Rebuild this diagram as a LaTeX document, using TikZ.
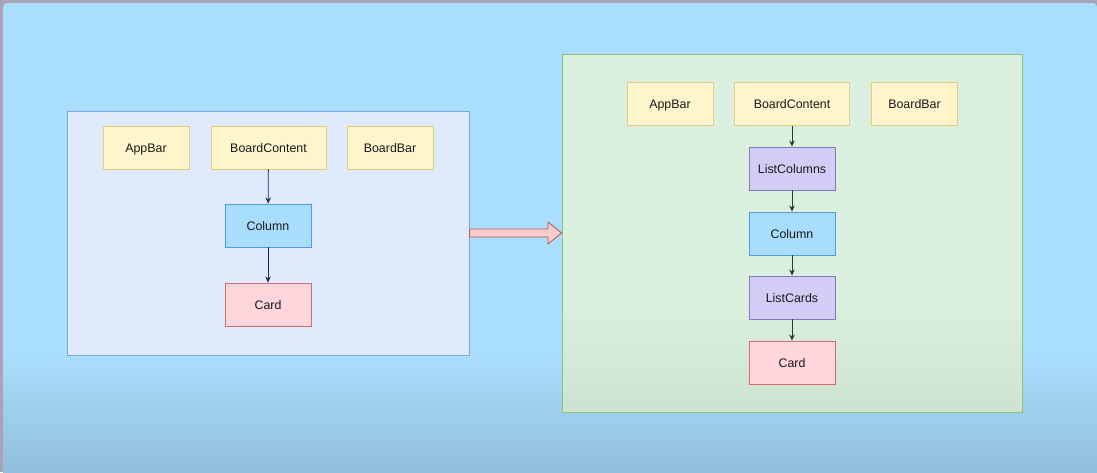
\documentclass[tikz,border=0pt]{standalone}
\usepackage{fontspec}
\setmainfont{Liberation Sans}
\usetikzlibrary{arrows.meta,shapes.arrows}
\definecolor{bgblue}{HTML}{A9DEFC}
\definecolor{bgdark}{HTML}{90BEDB}
\definecolor{frame}{HTML}{A8A3B6}
\definecolor{lfill}{HTML}{DFEAFD}
\definecolor{lline}{HTML}{7EA6E0}
\definecolor{gfill}{HTML}{DBEFDF}
\definecolor{gfilldark}{HTML}{CEE3CF}
\definecolor{gline}{HTML}{8DC07A}
\definecolor{yfill}{HTML}{FFF5CC}
\definecolor{yline}{HTML}{E6CD7E}
\definecolor{bfill}{HTML}{A8DDFD}
\definecolor{bline}{HTML}{4F9BE6}
\definecolor{rfill}{HTML}{FFD6DC}
\definecolor{rline}{HTML}{D46A70}
\definecolor{pfill}{HTML}{D3CDF5}
\definecolor{pline}{HTML}{7D7AC2}
\definecolor{navy}{HTML}{1F2A5C}
\definecolor{dgray}{HTML}{2A3A30}
\definecolor{afill}{HTML}{F8CECC}
\definecolor{aline}{HTML}{B85450}
\tikzset{
  box/.style={draw, line width=0.9pt, minimum width=86pt, minimum height=43pt, inner sep=0pt, font=\fontsize{12.4}{14}\selectfont, text=black!90, text height=9pt, text depth=0pt},
  ybox/.style={box, fill=yfill, draw=yline},
  bbox/.style={box, fill=bfill, draw=bline},
  rbox/.style={box, fill=rfill, draw=rline},
  pbox/.style={box, fill=pfill, draw=pline},
  lconn/.style={draw=navy, line width=0.8pt, -{Stealth[length=6pt,width=5.5pt]}},
  rconn/.style={draw=dgray, line width=0.8pt, -{Stealth[length=6pt,width=5.5pt]}},
}
\begin{document}
\begin{tikzpicture}[x=1pt,y=-1pt]
\useasboundingbox (0,0) rectangle (1097,472);
% background
\fill[frame] (0,0) rectangle (1097,472);
\fill[bgblue] (3,3) [rounded corners=4pt] -- (1097,3) [sharp corners] -- (1097,472) -- (3,472) [rounded corners=4pt] -- cycle;
\shade[top color=bgblue, bottom color=bgdark] (3,355) rectangle (1097,472);
% left container
\node[draw=lline, fill=lfill, line width=0.9pt, minimum width=402pt, minimum height=244pt, inner sep=0pt] (lc) at (268,233) {};
% right container
\fill[gfill] (562,54) rectangle (1022,300);
\shade[top color=gfill, bottom color=gfilldark] (562,299.5) rectangle (1022,412);
\node[draw=gline, line width=0.9pt, minimum width=460pt, minimum height=358pt, inner sep=0pt] (rc) at (792,233) {};
% left nodes
\node[ybox] (lapp) at (146,147.5) {AppBar};
\node[ybox, minimum width=115pt] (lbc) at (268.5,147.5) {BoardContent};
\node[ybox] (lbb) at (390,147.5) {BoardBar};
\node[bbox] (lcol) at (268,225.5) {Column};
\node[rbox] (lcard) at (268,304.5) {Card};
\draw[lconn] (lbc) -- (lcol);
\draw[lconn] (lcol) -- (lcard);
% right nodes
\node[ybox] (rapp) at (670,104) {AppBar};
\node[ybox, minimum width=115pt] (rbc) at (792,104) {BoardContent};
\node[ybox] (rbb) at (914.5,104) {BoardBar};
\node[pbox] (rlcols) at (792,168.5) {ListColumns};
\node[bbox] (rcol) at (792,233.5) {Column};
\node[pbox] (rlcards) at (792,297.5) {ListCards};
\node[rbox] (rcard) at (792,362.5) {Card};
\draw[rconn] (rbc) -- (rlcols);
\draw[rconn] (rlcols) -- (rcol);
\draw[rconn] (rcol) -- (rlcards);
\draw[rconn] (rlcards) -- (rcard);
% big arrow
\draw[aline, fill=afill, line width=0.8pt] (lc.east |- 0,229) -- (548,229) -- (548,222) -- (rc.west |- 0,233) -- (548,244) -- (548,237) -- (lc.east |- 0,237) -- cycle;
\end{tikzpicture}
\end{document}
